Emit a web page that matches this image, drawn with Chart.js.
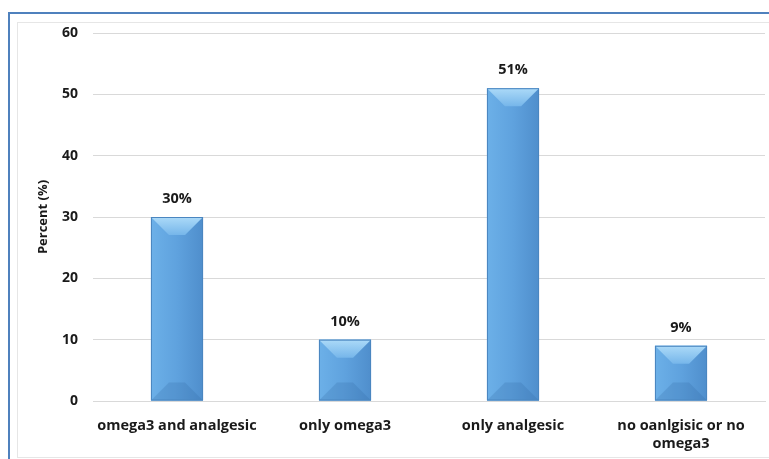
<!DOCTYPE html>
<html>
<head>
<meta charset="utf-8">
<script src="https://cdn.jsdelivr.net/npm/chart.js@4/dist/chart.umd.min.js"></script>
<style>
  html, body { margin: 0; padding: 0; background: #fff; overflow: hidden; }
  #frame {
    position: absolute; left: 8px; top: 12px; width: 780px; height: 460px;
    border-left: 2px solid #4f81bd; border-top: 2px solid #4f81bd;
  }
  #inner {
    position: absolute; left: 17px; top: 22px; width: 760px; height: 434px;
    border-left: 1px solid #e6e6e6; border-top: 1px solid #e6e6e6; border-bottom: 1px solid #e6e6e6;
  }
  #pctChart { position: absolute; left: 0; top: 0; }
</style>
</head>
<body>
<div id="frame"></div>
<div id="inner"></div>
<canvas id="pctChart" width="769" height="459"></canvas>
<script>
const categories = ['omega3 and analgesic', 'only omega3', 'only analgesic', ['no oanlgisic or no', 'omega3']];
const percents = [30, 10, 51, 9];
const yTicks = [0, 10, 20, 30, 40, 50, 60];

const FONT = "'Open Sans', 'DejaVu Sans', sans-serif";

// bevelled bars + percent labels on top
const bevelPlugin = {
  id: 'bevel',
  afterDatasetsDraw(chart) {
    const ctx = chart.ctx;
    const meta = chart.getDatasetMeta(0);
    meta.data.forEach((bar, i) => {
      const l = bar.x - bar.width / 2, r = bar.x + bar.width / 2;
      const t = bar.y, b = bar.base;
      const d = Math.min(bar.width / 2, (b - t) / 2, 18);
      ctx.save();
      // main face
      let g = ctx.createLinearGradient(l, 0, r, 0);
      g.addColorStop(0, '#6cb0e8');
      g.addColorStop(0.5, '#5fa2de');
      g.addColorStop(1, '#4f8ecc');
      ctx.fillStyle = g;
      ctx.fillRect(l, t, r - l, b - t);
      // top facet
      g = ctx.createLinearGradient(0, t, 0, t + d);
      g.addColorStop(0, '#acdaf8');
      g.addColorStop(1, '#76b6ea');
      ctx.fillStyle = g;
      ctx.beginPath();
      ctx.moveTo(l, t); ctx.lineTo(r, t); ctx.lineTo(r - d, t + d); ctx.lineTo(l + d, t + d);
      ctx.closePath(); ctx.fill();
      // bottom facet
      ctx.fillStyle = 'rgba(45, 100, 160, 0.22)';
      ctx.beginPath();
      ctx.moveTo(l, b); ctx.lineTo(r, b); ctx.lineTo(r - d, b - d); ctx.lineTo(l + d, b - d);
      ctx.closePath(); ctx.fill();
      ctx.strokeStyle = '#4a86c0';
      ctx.lineWidth = 1;
      ctx.strokeRect(l + 0.5, t + 0.5, bar.width - 1, b - t - 1);
      // label
      ctx.fillStyle = '#1a1a1a';
      ctx.font = 'bold 14.5px ' + FONT;
      ctx.textAlign = 'center';
      ctx.textBaseline = 'middle';
      ctx.fillText(percents[i] + '%', bar.x, t - 18);
      ctx.restore();
    });
  }
};

const ctx = document.getElementById('pctChart').getContext('2d');

const pctChart = new Chart(ctx, {
  type: 'bar',
  data: {
    labels: categories,
    datasets: [{
      label: 'Percent',
      data: percents,
      backgroundColor: '#5e9fdb',
      borderWidth: 0,
      barPercentage: 0.62,
      categoryPercentage: 0.5
    }]
  },
  options: {
    responsive: false,
    animation: false,
    layout: { padding: { left: 18, right: 4, top: 33, bottom: 3 } },
    plugins: {
      legend: { display: false },
      tooltip: { enabled: false }
    },
    scales: {
      y: {
        min: 0,
        max: 60,
        afterBuildTicks: s => { s.ticks = yTicks.map(v => ({ value: v })); },
        afterFit: s => { s.width = 75; },
        border: { display: false },
        grid: { color: '#d9d9d9', drawTicks: false },
        ticks: { color: '#1a1a1a', padding: 15, font: { family: FONT, size: 14, weight: 'bold' } },
        title: {
          display: true,
          text: 'Percent (%)',
          color: '#1a1a1a',
          padding: { top: 17, bottom: 4 },
          font: { family: FONT, size: 13, weight: 'bold' }
        }
      },
      x: {
        afterFit: s => { s.height = 55; },
        border: { color: '#d9d9d9' },
        grid: { display: false },
        ticks: { color: '#1a1a1a', padding: 8, maxRotation: 0, font: { family: FONT, size: 14.5, weight: 'bold', lineHeight: 1.25 } }
      }
    }
  },
  plugins: [bevelPlugin]
});
</script>
</body>
</html>
